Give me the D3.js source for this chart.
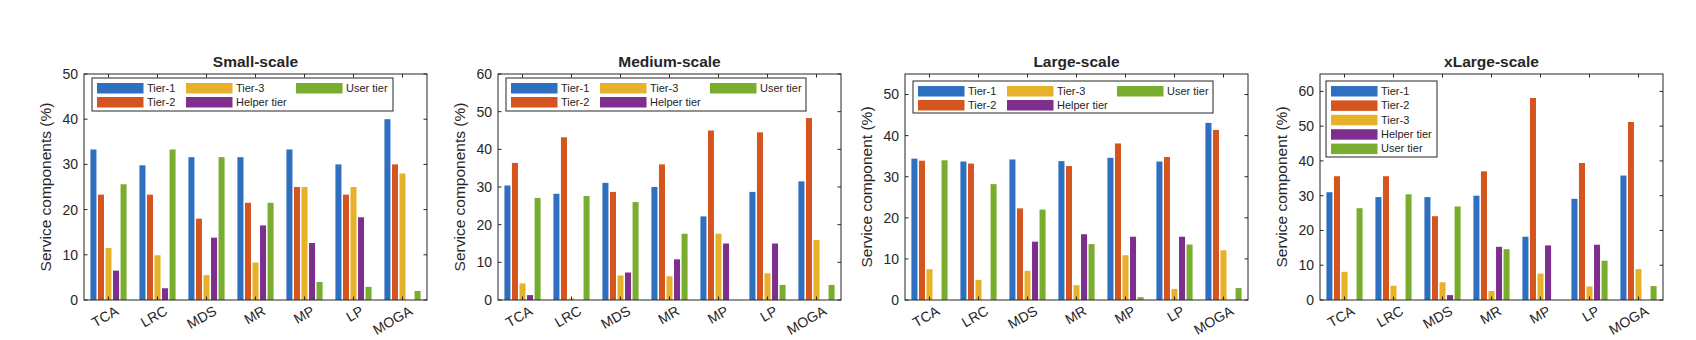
<!DOCTYPE html>
<html>
<head>
<meta charset="utf-8">
<script src="https://cdn.jsdelivr.net/npm/d3@7"></script>
<style>
  body { margin: 0; background: #fff; }
  svg { display: block; }
  text { font-family: "Liberation Sans", Arial, sans-serif; fill: #262626; }
</style>
</head>
<body>
<svg id="chart" width="1696" height="340"></svg>
<script>
// categories and series
var categories = ["TCA", "LRC", "MDS", "MR", "MP", "LP", "MOGA"];
var seriesNames = ["Tier-1", "Tier-2", "Tier-3", "Helper tier", "User tier"];
var seriesColors = ["#2f6fc0", "#d4561e", "#e8b12a", "#7e2f8e", "#78ad30"];

// values per panel, one row per series (Tier-1, Tier-2, Tier-3, Helper, User)
var smallScale = [
  [33.3, 29.8, 31.6, 31.6, 33.3, 30.0, 40.0],
  [23.3, 23.3, 18.0, 21.5, 25.0, 23.3, 30.0],
  [11.5,  9.9,  5.5,  8.3, 25.0, 25.0, 28.0],
  [ 6.5,  2.6, 13.8, 16.5, 12.6, 18.3,  0.0],
  [25.6, 33.3, 31.6, 21.5,  4.0,  2.9,  2.0]
];
var mediumScale = [
  [30.4, 28.2, 31.1, 30.0, 22.2, 28.7, 31.5],
  [36.4, 43.2, 28.7, 36.0, 45.0, 44.5, 48.3],
  [ 4.4,  0.4,  6.5,  6.3, 17.6,  7.1, 15.9],
  [ 1.3,  0.0,  7.3, 10.8, 15.0, 15.0,  0.0],
  [27.1, 27.6, 26.0, 17.6,  0.0,  4.0,  4.0]
];
var largeScale = [
  [34.4, 33.7, 34.2, 33.8, 34.6, 33.7, 43.1],
  [33.9, 33.2, 22.3, 32.6, 38.1, 34.8, 41.4],
  [ 7.5,  4.9,  7.1,  3.6, 10.9,  2.7, 12.1],
  [ 0.0,  0.0, 14.2, 16.0, 15.4, 15.4,  0.0],
  [34.0, 28.2, 22.0, 13.6,  0.7, 13.5,  2.9]
];
var xlargeScale = [
  [31.0, 29.6, 29.6, 30.0, 18.2, 29.1, 35.8],
  [35.6, 35.6, 24.1, 37.0, 58.1, 39.4, 51.2],
  [ 8.1,  4.1,  5.1,  2.6,  7.6,  3.9,  8.9],
  [ 0.0,  0.0,  1.4, 15.3, 15.7, 15.9,  0.0],
  [26.4, 30.4, 26.9, 14.6,  0.0, 11.3,  4.0]
];

var panelTitles = ["Small-scale", "Medium-scale", "Large-scale", "xLarge-scale"];
var panelYLabels = ["Service components (%)", "Service components (%)", "Service component (%)", "Service component (%)"];
var panelYMax = [50, 60, 55, 65];
var panelTicks = [
  [0, 10, 20, 30, 40, 50],
  [0, 10, 20, 30, 40, 50, 60],
  [0, 10, 20, 30, 40, 50],
  [0, 10, 20, 30, 40, 50, 60]
];
var panelData = [smallScale, mediumScale, largeScale, xlargeScale];

// layout
var panelLeft = [84, 498, 905, 1320];
var panelW = 343, plotTop = 74, plotBottom = 300;
var legendBoxes = [
  {x: 92, y: 78, w: 301, h: 33, cols: 3},
  {x: 506, y: 78, w: 300, h: 33, cols: 3},
  {x: 913, y: 81, w: 300, h: 32, cols: 3},
  {x: 1326, y: 81, w: 111, h: 76, cols: 1}
];
var legendColX = [0, 89, 199];
var axisColor = "#262626";
var tickLen = 3.5;

var svg = d3.select("#chart");

panelData.forEach(function (data, p) {
  var x0 = panelLeft[p];
  var g = svg.append("g");

  var x = d3.scaleLinear().domain([0.5, categories.length + 0.5]).range([x0, x0 + panelW]);
  var y = d3.scaleLinear().domain([0, panelYMax[p]]).range([plotBottom, plotTop]);
  var unit = x(1) - x(0);
  var groupW = 0.769 * unit;
  var xs = d3.scaleBand().domain(d3.range(seriesNames.length))
      .range([-groupW / 2, groupW / 2]).paddingInner(0.2).paddingOuter(0.1);

  // bars
  data.forEach(function (vals, s) {
    g.selectAll(null)
      .data(vals)
      .enter()
      .append("rect")
      .attr("x", function (d, i) { return x(i + 1) + xs(s); })
      .attr("width", xs.bandwidth())
      .attr("y", function (d) { return y(d); })
      .attr("height", function (d) { return plotBottom - y(d); })
      .attr("fill", seriesColors[s]);
  });

  // box
  g.append("rect")
    .attr("x", x0).attr("y", plotTop)
    .attr("width", panelW).attr("height", plotBottom - plotTop)
    .attr("fill", "none").attr("stroke", axisColor).attr("stroke-width", 1);

  // y ticks both sides, inward
  panelTicks[p].forEach(function (t) {
    g.append("line").attr("x1", x0).attr("x2", x0 + tickLen)
      .attr("y1", y(t)).attr("y2", y(t)).attr("stroke", axisColor);
    g.append("line").attr("x1", x0 + panelW).attr("x2", x0 + panelW - tickLen)
      .attr("y1", y(t)).attr("y2", y(t)).attr("stroke", axisColor);
    g.append("text")
      .attr("x", x0 - 6).attr("y", y(t)).attr("dy", "0.35em")
      .attr("text-anchor", "end").style("font-size", "14px")
      .text(t);
  });

  // x ticks bottom and top, inward
  categories.forEach(function (c, i) {
    var cx = x(i + 1);
    g.append("line").attr("x1", cx).attr("x2", cx)
      .attr("y1", plotBottom).attr("y2", plotBottom - tickLen).attr("stroke", axisColor);
    g.append("line").attr("x1", cx).attr("x2", cx)
      .attr("y1", plotTop).attr("y2", plotTop + tickLen).attr("stroke", axisColor);
    g.append("text")
      .attr("transform", "translate(" + (cx + 6) + "," + (plotBottom + 5) + ") rotate(-30)")
      .attr("dy", "0.72em")
      .attr("text-anchor", "end").style("font-size", "14px")
      .text(c);
  });

  // title
  g.append("text")
    .attr("x", x0 + panelW / 2).attr("y", 67)
    .attr("text-anchor", "middle")
    .style("font-size", "15.5px").style("font-weight", "bold")
    .text(panelTitles[p]);

  // y label
  g.append("text")
    .attr("transform", "translate(" + (x0 - 33) + "," + ((plotTop + plotBottom) / 2) + ") rotate(-90)")
    .attr("text-anchor", "middle").style("font-size", "15.5px")
    .text(panelYLabels[p]);

  // legend
  var lb = legendBoxes[p];
  var lg = g.append("g");
  lg.append("rect")
    .attr("x", lb.x).attr("y", lb.y).attr("width", lb.w).attr("height", lb.h)
    .attr("fill", "#fff").attr("stroke", axisColor).attr("stroke-width", 1);
  var rows = Math.ceil(seriesNames.length / lb.cols);
  var rowH = lb.cols === 3 ? 14 : 14.4;
  seriesNames.forEach(function (name, s) {
    var col = Math.floor(s / rows), row = s % rows;
    var sx = lb.x + 5 + legendColX[col];
    var sy = lb.y + 10 + row * rowH;
    lg.append("rect")
      .attr("x", sx).attr("y", sy - 5)
      .attr("width", 46.5).attr("height", 10.5)
      .attr("fill", seriesColors[s]);
    lg.append("text")
      .attr("x", sx + 50).attr("y", sy).attr("dy", "0.35em")
      .style("font-size", "11px")
      .text(name);
  });
});
</script>
</body>
</html>
